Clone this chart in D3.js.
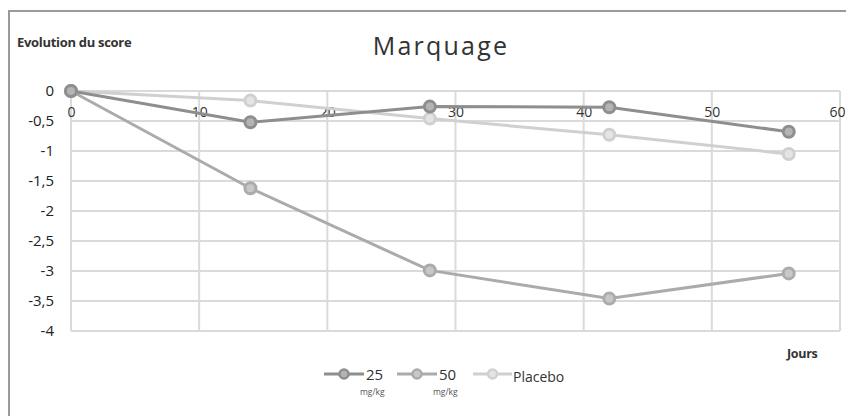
<!DOCTYPE html>
<html><head><meta charset="utf-8">
<script src="https://cdn.jsdelivr.net/npm/d3@7"></script>
<style>body{margin:0;background:#fff;}svg{display:block;}</style>
</head><body>
<svg id="c" width="846" height="416"></svg>
<script>
const days = [0, 14, 28, 42, 56];
const dose25 = [0, -0.52, -0.26, -0.27, -0.68];
const dose50 = [0, -1.62, -2.99, -3.46, -3.04];
const placebo = [0, -0.16, -0.46, -0.73, -1.05];
const xTicks = [0, 10, 20, 30, 40, 50, 60];
const yTicks = [0, -0.5, -1, -1.5, -2, -2.5, -3, -3.5, -4];
const seriesNames = ["25", "50", "Placebo"];
const seriesUnits = ["mg/kg", "mg/kg", ""];
const seriesColors = ["#8e8e8e", "#ababab", "#d0d0d0"];
const seriesFills = ["#b4b4b4", "#c8c8c8", "#e4e4e4"];

const svg = d3.select("#c");
const font = "'Open Sans', 'Liberation Sans', sans-serif";

// outer frame
svg.append("path").attr("d", "M9,416 V11 H846").attr("fill", "none")
  .attr("stroke", "#9a9a9a").attr("stroke-width", 2);

const x = d3.scaleLinear().domain([0, 60]).range([71, 840]);
const y = d3.scaleLinear().domain([0, -4]).range([91, 331]);

// gridlines
svg.append("g").selectAll("line").data(yTicks).join("line")
  .attr("x1", x(0)).attr("x2", x(60)).attr("y1", d => y(d)).attr("y2", d => y(d))
  .attr("stroke", "#dadada").attr("stroke-width", 2);
svg.append("g").selectAll("line").data(xTicks).join("line")
  .attr("y1", y(0)).attr("y2", y(-4)).attr("x1", d => x(d)).attr("x2", d => x(d))
  .attr("stroke", "#dadada").attr("stroke-width", 2);

// y axis labels
const yAxis = d3.axisLeft(y).tickValues(yTicks).tickSize(0).tickPadding(0)
  .tickFormat(d => String(d).replace(".", ","));
const ya = svg.append("g").attr("transform", "translate(54,0)").call(yAxis);
ya.select(".domain").remove();
ya.selectAll("text").attr("font-family", font).attr("font-size", 15).attr("fill", "#222");

// x axis labels (at y=0 line)
const xAxis = d3.axisBottom(x).tickValues(xTicks).tickSize(0).tickPadding(0).tickFormat(d3.format("d"));
const xa = svg.append("g").attr("transform", `translate(0,${y(0) + 21})`).call(xAxis);
xa.select(".domain").remove();
xa.selectAll("text").attr("font-family", font).attr("font-size", 14).attr("fill", "#333")
  .attr("dy", "0.35em").attr("y", 0);
// keep the last label inside the picture
xa.selectAll(".tick").filter(d => d === 60).select("text")
  .attr("text-anchor", "end").attr("x", 845 - x(60));

// lines
const all = [dose25, dose50, placebo];
const line = d3.line().x((d, i) => x(days[i])).y(d => y(d));
[2, 1, 0].forEach(k => {
  const g = svg.append("g");
  g.append("path").datum(all[k]).attr("d", line).attr("fill", "none")
    .attr("stroke", seriesColors[k]).attr("stroke-width", 3);
  g.selectAll("circle").data(all[k]).join("circle")
    .attr("cx", (d, i) => x(days[i])).attr("cy", d => y(d)).attr("r", 5.5)
    .attr("fill", seriesFills[k]).attr("stroke", seriesColors[k]).attr("stroke-width", 3);
});

// title
svg.append("text").attr("x", 441).attr("y", 55).attr("text-anchor", "middle")
  .attr("font-family", font).attr("font-size", 25).attr("letter-spacing", 2.2)
  .attr("fill", "#333").text("Marquage");

svg.append("text").attr("x", 17).attr("y", 47).attr("font-family", font)
  .attr("font-size", 13).attr("font-weight", "bold").attr("fill", "#333")
  .attr("letter-spacing", -0.3).text("Evolution du score");

svg.append("text").attr("x", 787).attr("y", 358).attr("font-family", font)
  .attr("font-size", 12.5).attr("font-weight", "bold").attr("fill", "#333")
  .attr("letter-spacing", -0.3).text("Jours");

// legend
const legX = [324, 397, 473];
const leg = svg.append("g");
seriesNames.forEach((name, k) => {
  const lx = legX[k];
  const lw = k === 2 ? 39 : 40;
  leg.append("line").attr("x1", lx).attr("x2", lx + lw).attr("y1", 374).attr("y2", 374)
    .attr("stroke", seriesColors[k]).attr("stroke-width", 3);
  leg.append("circle").attr("cx", lx + lw / 2).attr("cy", 374).attr("r", 4.5)
    .attr("fill", seriesFills[k]).attr("stroke", seriesColors[k]).attr("stroke-width", 2.5);
  if (seriesUnits[k]) {
    leg.append("text").attr("x", lx + lw + 2).attr("y", 380).attr("font-family", font)
      .attr("font-size", 15).attr("fill", "#333").text(name);
    leg.append("text").attr("x", lx + lw - 4).attr("y", 395).attr("font-family", font)
      .attr("font-size", 8.5).attr("fill", "#555").text(seriesUnits[k]);
  } else {
    leg.append("text").attr("x", lx + lw + 1).attr("y", 382).attr("font-family", font)
      .attr("font-size", 14).attr("fill", "#333").text(name);
  }
});
</script>
</body></html>
